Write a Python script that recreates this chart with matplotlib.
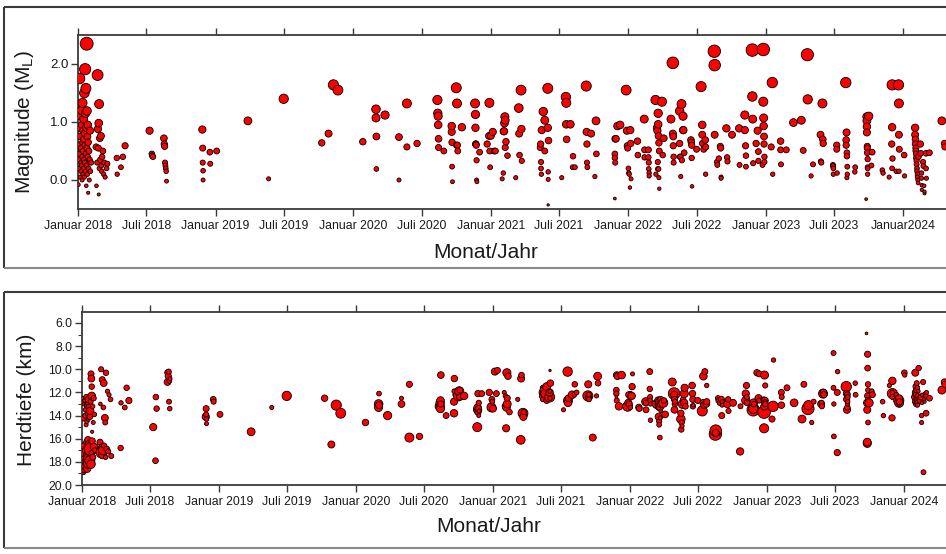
import matplotlib
matplotlib.use("Agg")
import matplotlib.pyplot as plt
import matplotlib.dates as mdates
from matplotlib.lines import Line2D
import numpy as np
import pandas as pd

plt.rcParams['font.family'] = ['Liberation Sans', 'DejaVu Sans']
plt.rcParams['mathtext.fontset'] = 'custom'
plt.rcParams['mathtext.rm'] = 'Liberation Sans'
plt.rcParams['mathtext.it'] = 'Liberation Sans:italic'

# ---------------------------------------------------------------------------
# Event catalogue: origin date, local magnitude (ML) and hypocentre depth (km)
# ---------------------------------------------------------------------------
event_dates = [
    # Jan 2018 swarm
    "2018-01-02", "2018-01-03", "2018-01-04", "2018-01-05", "2018-01-05", "2018-01-06", "2018-01-06", "2018-01-07",
    "2018-01-07", "2018-01-08", "2018-01-08", "2018-01-09", "2018-01-09", "2018-01-10", "2018-01-10", "2018-01-11",
    "2018-01-11", "2018-01-12", "2018-01-12", "2018-01-13", "2018-01-13", "2018-01-14", "2018-01-14", "2018-01-15",
    "2018-01-15", "2018-01-16", "2018-01-16", "2018-01-17", "2018-01-17", "2018-01-18", "2018-01-18", "2018-01-19",
    "2018-01-19", "2018-01-20", "2018-01-20", "2018-01-21", "2018-01-21", "2018-01-22", "2018-01-22", "2018-01-23",
    "2018-01-23", "2018-01-24", "2018-01-24", "2018-01-25", "2018-01-25", "2018-01-26", "2018-01-26", "2018-01-27",
    "2018-01-27", "2018-01-28", "2018-01-28", "2018-01-29", "2018-01-30", "2018-01-31", "2018-02-01", "2018-02-02",
    "2018-02-03", "2018-02-05",
    # Feb - Mar 2018
    "2018-02-18", "2018-02-19", "2018-02-21", "2018-02-22", "2018-02-23", "2018-02-24", "2018-02-25", "2018-02-25",
    "2018-02-26", "2018-02-27", "2018-02-28", "2018-03-01", "2018-03-03", "2018-03-04", "2018-03-05", "2018-03-06",
    "2018-03-08", "2018-03-10", "2018-03-12", "2018-03-14", "2018-03-18", "2018-03-20",
    # Apr - May 2018
    "2018-04-14", "2018-04-15", "2018-04-25", "2018-04-30", "2018-05-06",
    # Jul - Aug 2018
    "2018-07-10", "2018-07-16", "2018-07-17", "2018-07-19", "2018-08-17", "2018-08-18", "2018-08-19", "2018-08-20",
    "2018-08-21", "2018-08-22", "2018-08-23", "2018-08-24",
    # Nov 2018 - Jan 2019
    "2018-11-27", "2018-11-28", "2018-11-28", "2018-11-29", "2018-11-29", "2018-12-17", "2018-12-18", "2019-01-04",
    # 2019
    "2019-03-28", "2019-05-22", "2019-07-01", "2019-10-10", "2019-10-28", "2019-11-10", "2019-11-22",
    # Jan - Jun 2020
    "2020-01-27", "2020-03-02", "2020-03-02", "2020-03-03", "2020-03-03", "2020-03-26", "2020-05-02", "2020-05-02",
    "2020-05-23", "2020-05-23", "2020-06-19",
    # Aug - Oct 2020
    "2020-08-12", "2020-08-13", "2020-08-14", "2020-08-14", "2020-08-15", "2020-08-15", "2020-08-29", "2020-09-19",
    "2020-09-19", "2020-09-20", "2020-09-20", "2020-09-21", "2020-10-01", "2020-10-02", "2020-10-03", "2020-10-04",
    "2020-10-05", "2020-10-16",
    # Nov 2020 - Jan 2021
    "2020-11-20", "2020-11-21", "2020-11-21", "2020-11-22", "2020-11-22", "2020-11-23", "2020-11-24", "2020-11-24",
    "2020-11-25", "2020-12-02", "2020-12-22", "2020-12-27", "2020-12-28", "2020-12-29", "2020-12-30", "2021-01-01",
    "2021-01-06", "2021-01-10", "2021-01-13",
    # Jan - Feb 2021
    "2021-01-31", "2021-02-03", "2021-02-04", "2021-02-05", "2021-02-06", "2021-02-07", "2021-02-08", "2021-02-08",
    "2021-02-10", "2021-02-14",
    # Mar 2021
    "2021-03-08", "2021-03-16", "2021-03-17", "2021-03-18", "2021-03-22", "2021-03-23", "2021-03-24",
    # May - Jun 2021
    "2021-05-12", "2021-05-13", "2021-05-14", "2021-05-14", "2021-05-15", "2021-05-16", "2021-05-20", "2021-05-24",
    "2021-05-24", "2021-06-01", "2021-06-01", "2021-06-03", "2021-06-02", "2021-06-02", "2021-06-02",
    # Jul - Aug 2021
    "2021-07-08", "2021-07-19", "2021-07-20", "2021-07-20", "2021-07-21", "2021-07-31", "2021-08-06", "2021-08-07",
    "2021-08-12",
    # Sep - Oct 2021
    "2021-09-11", "2021-09-12", "2021-09-13", "2021-09-13", "2021-09-14", "2021-09-24", "2021-10-04", "2021-10-07",
    "2021-10-08",
    # Nov 2021
    "2021-11-26", "2021-11-26", "2021-11-26", "2021-11-27", "2021-11-27", "2021-11-29", "2021-12-03",
    # Dec 2021 - Jan 2022
    "2021-12-10", "2021-12-26", "2021-12-28", "2021-12-29", "2021-12-30", "2022-01-01", "2022-01-02", "2022-01-03",
    "2022-01-05", "2022-01-06", "2022-01-07", "2022-01-08", "2022-01-25", "2022-01-26",
    # Feb 2022
    "2022-02-12", "2022-02-13", "2022-02-13", "2022-02-23", "2022-02-23", "2022-02-24", "2022-02-24", "2022-02-25",
    "2022-02-25",
    # Mar - Apr 2022
    "2022-03-14", "2022-03-15", "2022-03-18", "2022-03-19", "2022-03-20", "2022-03-20", "2022-03-21", "2022-03-21",
    "2022-03-22", "2022-03-22", "2022-03-23", "2022-03-23", "2022-03-24", "2022-03-24", "2022-03-31", "2022-04-02",
    "2022-04-05",
    # late Apr 2022
    "2022-04-24", "2022-04-29", "2022-04-29", "2022-04-30", "2022-04-30", "2022-05-01", "2022-05-01",
    # May 2022
    "2022-05-17", "2022-05-17", "2022-05-18", "2022-05-19", "2022-05-20", "2022-05-22", "2022-05-23", "2022-05-26",
    "2022-05-26", "2022-05-27", "2022-05-29",
    # Jun 2022
    "2022-06-16", "2022-06-17", "2022-06-18", "2022-06-18", "2022-06-19", "2022-07-01",
    # Jul 2022
    "2022-07-13", "2022-07-16", "2022-07-16", "2022-07-17", "2022-07-20", "2022-07-24", "2022-07-25", "2022-07-25",
    # Aug - Sep 2022
    "2022-08-17", "2022-08-18", "2022-08-18", "2022-08-24", "2022-08-25", "2022-08-29", "2022-09-02", "2022-09-03",
    "2022-09-04", "2022-09-04",
    # Sep - Oct 2022
    "2022-09-18", "2022-09-20", "2022-09-21", "2022-10-03",
    # Oct - Nov 2022
    "2022-10-22", "2022-10-23", "2022-11-06", "2022-11-06", "2022-11-08", "2022-11-09", "2022-11-09",
    # Nov - Dec 2022
    "2022-11-26", "2022-11-26", "2022-11-27", "2022-11-28", "2022-12-06", "2022-12-10", "2022-12-12", "2022-12-12",
    # late Dec 2022
    "2022-12-23", "2022-12-25", "2022-12-25", "2022-12-26", "2022-12-26", "2022-12-27", "2022-12-27", "2022-12-28",
    "2022-12-28",
    # Jan - Feb 2023
    "2023-01-15", "2023-01-18", "2023-01-19", "2023-02-09", "2023-02-09", "2023-02-10", "2023-02-24",
    # Mar - Jun 2023
    "2023-03-15", "2023-04-05", "2023-04-10", "2023-04-21", "2023-04-22", "2023-05-01", "2023-05-06", "2023-05-26",
    "2023-05-27", "2023-05-28", "2023-05-31", "2023-06-01", "2023-06-02",
    # Jun - Aug 2023
    "2023-06-28", "2023-06-28", "2023-06-29", "2023-06-29", "2023-07-08", "2023-07-08", "2023-07-09", "2023-08-01",
    "2023-08-02", "2023-08-02", "2023-08-03", "2023-08-04", "2023-08-04", "2023-08-04", "2023-08-05", "2023-08-05",
    "2023-08-25", "2023-08-26",
    # Sep - Oct 2023
    "2023-09-24", "2023-09-26", "2023-09-26", "2023-09-26", "2023-09-26", "2023-09-27", "2023-09-27", "2023-09-27",
    "2023-09-28", "2023-09-28", "2023-09-28", "2023-09-28", "2023-10-01", "2023-10-08", "2023-10-10",
    # Nov - Dec 2023
    "2023-11-06", "2023-11-08", "2023-11-24", "2023-12-01", "2023-12-02", "2023-12-02", "2023-12-02", "2023-12-03",
    "2023-12-13", "2023-12-19", "2023-12-20", "2023-12-20", "2023-12-20", "2023-12-21",
    # Jan - Apr 2024
    "2024-01-03", "2024-01-04",
    "2024-02-01", "2024-02-01", "2024-02-02", "2024-02-02", "2024-02-03", "2024-02-03", "2024-02-04", "2024-02-04",
    "2024-02-05", "2024-02-05", "2024-02-06", "2024-02-06", "2024-02-07", "2024-02-07", "2024-02-08", "2024-02-09",
    "2024-02-10", "2024-02-15", "2024-02-16", "2024-02-18", "2024-02-18", "2024-02-19", "2024-02-19", "2024-02-22",
    "2024-02-23", "2024-02-25", "2024-02-26", "2024-02-26", "2024-03-01", "2024-03-01", "2024-03-02", "2024-03-10",
    "2024-04-12", "2024-04-19", "2024-04-20",
]

magnitude_ml = [
    # Jan 2018 swarm
    -0.08, 0.35, 0.9, 1.75, 0.2, 0.6, 1.25, 0.05,
    0.45, 1.3, 0.75, 0.15, 1.1, 0.55, 0.3, 1.2,
    0.25, 0.95, 0.0, 1.33, 0.4, 0.65, 0.1, 0.85,
    0.5, 1.05, 0.2, 0.7, 0.35, 1.5, 0.05, 0.8,
    0.3, 1.91, 0.6, 0.15, 1.15, 0.45, 1.58, 0.9,
    -0.1, 2.35, 0.25, 1.19, 0.55, 0.75, 0.1, 0.95,
    0.4, -0.22, 0.65, 0.2, 0.5, 0.0, 0.35, 0.85,
    0.15, 0.3,
    # Feb - Mar 2018
    0.57, -0.1, 0.3, 1.81, 0.88, 0.55, -0.25, 0.98,
    1.31, 0.2, 0.72, 0.35, 0.76, 0.25, 0.15, 0.4,
    0.5, 0.1, 0.3, 0.05, 0.2, 0.28,
    # Apr - May 2018
    0.38, 0.1, 0.22, 0.4, 0.59,
    # Jul - Aug 2018
    0.85, 0.45, 0.42, 0.4, 0.72, 0.62, 0.58, 0.3,
    0.25, 0.2, 0.15, -0.02,
    # Nov 2018 - Jan 2019
    0.87, 0.55, 0.3, 0.16, 0.0, 0.48, 0.28, 0.5,
    # 2019
    1.02, 0.02, 1.4, 0.64, 0.8, 1.64, 1.55,
    # Jan - Jun 2020
    0.66, 1.22, 1.07, 0.75, 0.19, 1.12, 0.74, 0.0,
    1.32, 0.57, 0.63,
    # Aug - Oct 2020
    1.38, 1.15, 1.1, 0.95, 0.71, 0.56, 0.5, 0.83,
    0.93, 0.65, 0.23, -0.03, 1.59, 0.6, 1.32, 0.6,
    0.5, 0.91,
    # Nov 2020 - Jan 2021
    1.32, 1.13, 0.9, 0.62, 0.62, 0.6, 0.34, 0.0,
    -0.03, 0.48, 0.62, 0.76, 1.33, 0.5, 0.22, 0.76,
    0.83, 0.5, 0.5,
    # Jan - Feb 2021
    0.02, 0.12, 0.84, 0.84, 0.98, 1.09, 1.03, 0.56,
    0.66, 0.42,
    # Mar 2021
    0.04, 1.24, 0.8, 0.43, 1.55, 0.88, 0.33,
    # May - Jun 2021
    0.56, 0.62, 0.31, 0.2, 0.1, 0.86, 1.18, 1.03,
    0.5, 1.58, 0.9, 0.68, 0.14, 0.01, -0.43,
    # Jul - Aug 2021
    0.04, 1.43, 1.33, 0.96, 0.7, 0.96, 0.22, 0.41,
    0.22,
    # Sep - Oct 2021
    1.62, 0.83, 0.62, 0.3, 0.22, 0.8, 0.06, 1.02,
    0.45,
    # Nov 2021
    0.45, 0.38, -0.32, 0.3, 0.71, 0.71, 0.93,
    # Dec 2021 - Jan 2022
    0.95, 1.55, 0.85, 0.59, 0.55, 0.2, 0.12, 0.1,
    -0.13, 0.86, 0.63, 0.02, 0.67, 0.43,
    # Feb 2022
    1.05, 0.52, 0.39, 0.52, 0.39, 0.3, 0.19, 0.12,
    0.07,
    # Mar - Apr 2022
    1.38, 0.1, 0.9, 0.85, 0.31, 0.19, 1.15, 0.96,
    0.76, 0.19, 0.64, 0.04, 0.5, -0.15, 1.35, 0.43,
    0.72,
    # late Apr 2022
    1.05, 2.02, 0.8, 0.75, 0.59, 0.4, 0.3,
    # May 2022
    1.19, 0.63, 0.4, 0.4, 0.06, 1.31, 0.34, 1.1,
    0.86, 0.86, 0.47,
    # Jun 2022
    0.69, 0.65, 0.6, 0.38, -0.11, 0.53,
    # Jul 2022
    1.61, 0.95, 0.78, 0.63, 0.53, 0.69, 0.57, 0.1,
    # Aug - Sep 2022
    2.22, 1.98, 0.78, 0.31, 0.26, 0.37, 0.58, 0.55,
    0.05, 0.03,
    # Sep - Oct 2022
    0.89, 0.39, 0.32, 0.78,
    # Oct - Nov 2022
    0.89, 0.26, 1.12, 0.86, 0.59, 0.42, 0.23,
    # Nov - Dec 2022
    2.24, 1.44, 1.05, 0.29, 0.63, 0.85, 0.49, 0.33,
    # late Dec 2022
    0.26, 2.25, 1.35, 1.07, 0.93, 0.75, 0.62, 0.4,
    0.31,
    # Jan - Feb 2023
    0.57, 1.68, 0.1, 0.67, 0.52, 0.27, 0.52,
    # Mar - Jun 2023
    0.99, 1.03, 0.51, 2.16, 1.39, 0.07, 0.27, 0.78,
    0.32, 0.3, 1.32, 0.7, 0.63,
    # Jun - Aug 2023
    0.26, 0.24, 0.2, 0.1, 0.6, 0.53, 0.12, 1.68,
    0.69, 0.6, 0.82, 0.47, 0.41, 0.04, 0.23, 0.1,
    0.14, 0.22,
    # Sep - Oct 2023
    -0.33, 1.09, 1.02, 0.92, 0.82, 0.58, 0.55, 0.47,
    0.36, 0.22, 0.2, 0.1, 1.1, 0.25, 0.48,
    # Nov - Dec 2023
    0.17, 0.12, 0.05, 0.62, 1.64, 0.91, 0.2, 0.37,
    0.15, 1.64, 1.32, 0.78, 0.15, 0.53,
    # Jan - Apr 2024
    0.43, 0.07,
    0.9, 0.78, 0.7, 0.62, 0.55, 0.5, 0.45, 0.38,
    0.33, 0.27, 0.2, 0.15, 0.1, 0.05, 0.0, -0.05,
    0.4, 0.62, 0.46, 0.12, 0.03, -0.09, -0.17, 0.31,
    0.24, -0.1, -0.23, -0.2, 0.46, 0.2, 0.03, 0.47,
    1.02, 0.63, 0.57,
]

depth_km = [
    # Jan 2018 swarm
    12.5, 18.4, 18.0, 17.6, 18.9, 14.2, 18.2, 13.0,
    18.7, 17.2, 16.6, 12.7, 17.8, 18.5, 14.0, 18.3,
    13.5, 17.0, 14.8, 18.0, 12.4, 16.3, 14.5, 18.6,
    13.1, 17.4, 12.9, 16.1, 13.8, 17.7, 14.3, 12.6,
    16.8, 18.1, 13.3, 17.5, 16.5, 14.1, 17.9, 13.6,
    16.9, 16.9, 12.8, 18.2, 10.4, 10.8, 17.2, 12.3,
    11.5, 15.4, 16.2, 13.2, 17.6, 14.6, 12.5, 16.7,
    13.9, 17.0,
    # Feb - Mar 2018
    16.3, 13.0, 10.0, 17.2, 16.8, 10.9, 16.5, 17.4,
    17.0, 13.3, 11.2, 16.6, 14.2, 14.6, 17.6, 10.3,
    16.9, 11.9, 17.1, 12.2, 12.6, 17.5,
    # Apr - May 2018
    16.8, 12.9, 13.3, 11.6, 12.7,
    # Jul - Aug 2018
    15.0, 17.9, 12.4, 13.4, 11.1, 10.3, 10.6, 10.2,
    12.8, 11.0, 13.4, 10.8,
    # Nov 2018 - Jan 2019
    14.1, 13.4, 13.9, 14.3, 14.7, 12.6, 12.8, 13.9,
    # 2019
    15.4, 13.3, 12.3, 12.5, 16.5, 13.1, 13.8,
    # Jan - Jun 2020
    14.6, 13.0, 13.3, 13.1, 12.1, 14.0, 13.0, 12.5,
    15.9, 11.3, 15.8,
    # Aug - Oct 2020
    13.2, 12.9, 13.4, 12.7, 10.5, 13.0, 14.0, 12.8,
    13.8, 10.8, 11.9, 12.2, 12.3, 12.0, 11.9, 12.4,
    11.8, 12.3,
    # Nov 2020 - Jan 2021
    15.0, 13.5, 13.3, 12.1, 13.7, 13.4, 12.9, 14.0,
    13.6, 12.1, 12.0, 13.2, 13.3, 12.6, 12.8, 13.4,
    10.2, 12.1, 10.1,
    # Jan - Feb 2021
    12.0, 12.3, 13.2, 15.1, 13.3, 10.3, 13.0, 12.5,
    10.6, 13.7,
    # Mar 2021
    12.6, 16.1, 10.8, 10.5, 13.8, 14.1, 13.7,
    # May - Jun 2021
    12.0, 12.3, 11.6, 12.6, 12.2, 11.8, 12.1, 11.5,
    12.7, 12.4, 12.0, 11.2, 12.5, 11.9, 10.1,
    # Jul - Aug 2021
    13.5, 10.2, 12.7, 12.9, 12.5, 12.2, 12.2, 11.3,
    12.0,
    # Sep - Oct 2021
    12.3, 11.3, 12.4, 12.2, 12.6, 15.9, 12.3, 10.6,
    11.2,
    # Nov 2021
    11.8, 12.1, 12.4, 12.7, 10.5, 10.6, 13.2,
    # Dec 2021 - Jan 2022
    10.5, 13.2, 12.9, 12.2, 13.0, 12.4, 13.3, 12.1,
    11.6, 12.3, 11.5, 10.4, 13.3, 13.4,
    # Feb 2022
    12.8, 13.5, 12.9, 10.2, 11.7, 12.4, 12.7, 14.4,
    13.0,
    # Mar - Apr 2022
    13.0, 13.1, 12.7, 14.1, 14.5, 14.8, 13.2, 12.8,
    13.3, 15.9, 13.0, 14.2, 12.6, 13.6, 12.9, 12.7,
    13.9,
    # late Apr 2022
    11.1, 12.1, 12.2, 13.5, 12.6, 13.0, 12.8,
    # May 2022
    14.3, 13.8, 15.2, 14.6, 14.9, 13.0, 12.6, 12.1,
    12.9, 11.6, 13.2,
    # Jun 2022
    11.4, 12.1, 12.6, 13.2, 13.1, 12.7,
    # Jul 2022
    13.6, 10.6, 12.9, 13.1, 10.2, 13.0, 12.8, 11.4,
    # Aug - Sep 2022
    15.6, 15.3, 15.5, 12.5, 12.7, 12.9, 12.6, 14.0,
    12.8, 13.1,
    # Sep - Oct 2022
    13.0, 12.6, 13.6, 12.9,
    # Oct - Nov 2022
    17.1, 13.2, 12.7, 12.1, 11.4, 12.9, 12.4,
    # Nov - Dec 2022
    13.5, 13.4, 12.9, 13.0, 10.3, 12.5, 10.4, 12.7,
    # late Dec 2022
    12.6, 13.7, 15.1, 10.5, 13.2, 12.7, 12.9, 13.0,
    11.4,
    # Jan - Feb 2023
    14.3, 13.2, 9.2, 13.1, 12.0, 12.4, 11.6,
    # Mar - Jun 2023
    12.9, 14.3, 11.3, 13.4, 13.1, 14.6, 12.8, 13.0,
    12.9, 13.2, 12.1, 12.0, 12.2,
    # Jun - Aug 2023
    8.6, 11.6, 15.8, 13.0, 17.2, 12.0, 10.2, 11.5,
    12.1, 12.6, 13.5, 12.2, 13.3, 13.0, 12.4, 12.8,
    11.2, 12.2,
    # Sep - Oct 2023
    6.9, 16.4, 16.3, 12.9, 13.5, 8.7, 12.3, 9.9,
    11.3, 11.8, 14.6, 12.6, 12.9, 11.9, 12.2,
    # Nov - Dec 2023
    12.8, 14.0, 11.4, 14.2, 12.1, 11.0, 12.0, 12.4,
    12.2, 12.7, 12.9, 12.5, 13.0, 12.8,
    # Jan - Apr 2024
    10.3, 10.5,
    12.4, 10.3, 12.0, 12.8, 11.5, 12.2, 13.0, 11.8,
    12.6, 11.2, 12.9, 12.3, 11.6, 13.1, 12.5, 11.9,
    9.9, 12.7, 12.4, 14.0, 14.6, 12.9, 12.2, 11.1,
    18.9, 12.6, 12.1, 12.8, 13.8, 12.3, 12.0, 12.5,
    11.8, 11.1, 11.3,
]

# Half-yearly axis ticks
tick_dates = ["2018-01-01", "2018-07-01", "2019-01-01", "2019-07-01", "2020-01-01", "2020-07-01", "2021-01-01",
              "2021-07-01", "2022-01-01", "2022-07-01", "2023-01-01", "2023-07-01", "2024-01-01"]
tick_labels_mag = ["Januar 2018", "Juli 2018", "Januar 2019", "Juli 2019", "Januar 2020", "Juli 2020",
                   "Januar 2021", "Juli 2021", "Januar 2022", "Juli 2022", "Januar 2023", "Juli 2023", "Januar2024"]
tick_labels_depth = ["Januar 2018", "Juli 2018", "Januar 2019", "Juli 2019", "Januar 2020", "Juli 2020",
                     "Januar 2021", "Juli 2021", "Januar 2022", "Juli 2022", "Januar 2023", "Juli 2023", "Januar 2024"]
mag_ticks = [0.0, 1.0, 2.0]
depth_ticks = [6.0, 8.0, 10.0, 12.0, 14.0, 16.0, 18.0, 20.0]

# ---------------------------------------------------------------------------
W, H, DPI = 946, 554, 100
fig = plt.figure(figsize=(W / DPI, H / DPI), dpi=DPI)

t = mdates.date2num(pd.to_datetime(event_dates))
mag = np.asarray(magnitude_ml, dtype=float)
dep = np.asarray(depth_km, dtype=float)

# marker diameter grows with magnitude
diam_px = np.clip(4.0 + 3.8 * mag, 2.4, None)
area = (diam_px * 72.0 / DPI) ** 2

x_left = mdates.date2num(pd.Timestamp("2018-01-01"))
x_right = mdates.date2num(pd.Timestamp("2024-04-23"))
ticks_num = mdates.date2num(pd.to_datetime(tick_dates))

SPINE = "#3a3a3a"
TXT = "#1a1a1a"


def px_axes(left, top, right, bottom):
    return fig.add_axes([left / W, 1 - bottom / H, (right - left) / W, (bottom - top) / H])


def style_axes(ax, xlabels):
    for side in ("left", "bottom", "top"):
        ax.spines[side].set_color(SPINE)
        ax.spines[side].set_linewidth(1.3)
    ax.spines["right"].set_visible(False)
    ax.set_xlim(x_left, x_right)
    ax.set_xticks(ticks_num)
    ax.set_xticklabels(xlabels, fontsize=8.8, color=TXT)
    ax.tick_params(axis="x", which="both", direction="out", top=True, bottom=True,
                   labeltop=False, length=5, width=1.0, color=SPINE, pad=3)
    ax.tick_params(axis="y", which="major", direction="out", length=5, width=1.0, color=SPINE, pad=2)
    ax.tick_params(axis="y", which="minor", direction="out", length=3, width=0.8, color=SPINE)


# Magnitude panel
ax1 = px_axes(78, 35, 946, 209)
ax1.scatter(t, mag, s=area, c="#ff0000", edgecolors="black", linewidths=0.6, zorder=3)
style_axes(ax1, tick_labels_mag)
ax1.set_ylim(-0.5, 2.5)
ax1.set_yticks(mag_ticks)
ax1.set_yticklabels([f"{v:.1f}" for v in mag_ticks], fontsize=9.5, color=TXT)
ax1.set_ylabel(r"Magnitude (M$_\mathrm{L}$)", fontsize=15, color=TXT)
ax1.yaxis.set_label_coords(-0.048, 0.5)

# Depth panel
ax2 = px_axes(82, 312, 946, 485)
ax2.scatter(t, dep, s=area, c="#ff0000", edgecolors="black", linewidths=0.6, zorder=3)
style_axes(ax2, tick_labels_depth)
ax2.set_ylim(20.0, 5.05)
ax2.set_yticks(depth_ticks)
ax2.set_yticks(np.arange(7.0, 20.0, 2.0), minor=True)
ax2.set_yticklabels([f"{v:.1f}" for v in depth_ticks], fontsize=8.8, color=TXT)
ax2.set_ylabel("Herdtiefe (km)", fontsize=15, color=TXT)
ax2.yaxis.set_label_coords(-0.053, 0.49)

# x-axis titles
fig.text(486 / W, 1 - 252 / H, "Monat/Jahr", fontsize=15, color=TXT, ha="center", va="center")
fig.text(489 / W, 1 - 527 / H, "Monat/Jahr", fontsize=15, color=TXT, ha="center", va="center")


# panel frames
def frame(top, bottom):
    kw = dict(transform=fig.transFigure, color="#3a3a3a", linewidth=1.5, solid_capstyle="butt")
    fig.add_artist(Line2D([4 / W, 4 / W], [1 - top / H, 1 - bottom / H], **kw))
    fig.add_artist(Line2D([4 / W, 1.0], [1 - top / H, 1 - top / H], **kw))
    kw["color"] = "#8a8a8a"
    fig.add_artist(Line2D([4 / W, 1.0], [1 - bottom / H, 1 - bottom / H], **kw))


frame(7, 268)
frame(292, 548)

fig.savefig("out.png", dpi=DPI)
